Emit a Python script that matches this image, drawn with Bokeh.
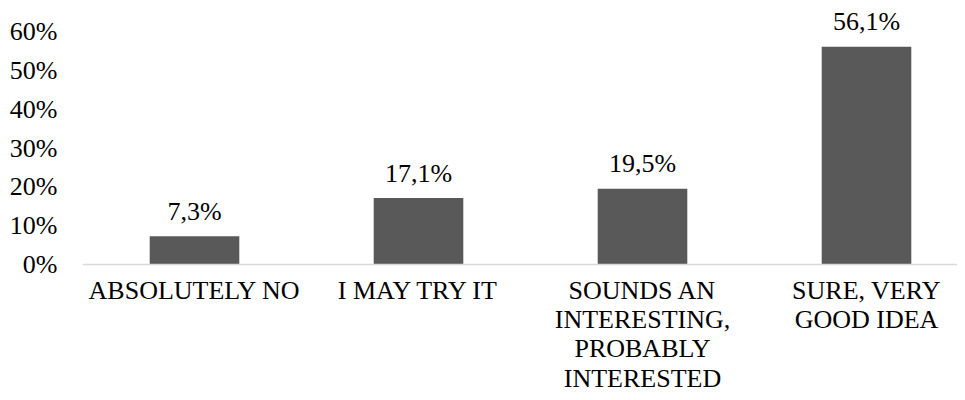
from bokeh.plotting import figure
from bokeh.models import Range1d, FixedTicker, NumeralTickFormatter, Span, ColumnDataSource
from bokeh.core.properties import value
from bokeh.embed import file_html
from bokeh.resources import INLINE

categories = ["ABSOLUTELY NO", "I MAY TRY IT",
              "SOUNDS AN\nINTERESTING,\nPROBABLY\nINTERESTED",
              "SURE, VERY\nGOOD IDEA"]
shares = [0.073, 0.171, 0.195, 0.561]
share_labels = ["7,3%", "17,1%", "19,5%", "56,1%"]
y_ticks = [0, 0.1, 0.2, 0.3, 0.4, 0.5, 0.6]

FONT = "Liberation Serif"
positions = list(range(len(categories)))
src = ColumnDataSource(dict(x=positions, top=shares, lab=share_labels,
                            cat=categories, zero=[0] * len(categories)))

W, H = 957, 392
LEFT = 82     # canvas x of the frame's left edge
BASE = 264    # canvas y of the 0% baseline
PXU = 388.3   # pixels per unit (100%)
PXC = 224.0   # pixels per category

p = figure(width=W, height=H, output_backend="svg", toolbar_location=None,
           x_axis_location=None,
           x_range=Range1d(-0.5, -0.5 + (W - LEFT) / PXC),
           y_range=Range1d(-(H - BASE) / PXU, BASE / PXU),
           min_border_left=LEFT, min_border_right=0, min_border_top=0,
           min_border_bottom=0)
p.outline_line_color = None
p.grid.visible = False

p.vbar(x="x", top="top", bottom=0, width=0.4, source=src,
       fill_color="#595959", line_color=None)

p.add_layout(Span(location=0, dimension="width", line_color="#d9d9d9",
                  line_width=1.5))

p.text(x="x", y="top", text="lab", source=src, text_align="center",
       text_baseline="alphabetic", y_offset=-25, text_color="#000000",
       text_font=value(FONT), text_font_size="26px")

p.text(x="x", y="zero", text="cat", source=src, text_align="center",
       text_baseline="top", y_offset=11, text_color="#000000",
       text_font=value(FONT), text_font_size="26px", text_line_height=1.015)

ax = p.yaxis[0]
ax.ticker = FixedTicker(ticks=y_ticks)
ax.formatter = NumeralTickFormatter(format="0%")
ax.axis_line_color = None
ax.major_tick_line_color = None
ax.minor_tick_line_color = None
ax.major_tick_out = 0
ax.major_tick_in = 0
ax.minor_tick_out = 0
ax.minor_tick_in = 0
ax.major_label_standoff = 25
ax.major_label_text_font = FONT
ax.major_label_text_font_size = "26px"
ax.major_label_text_color = "#000000"

open("out.html", "w").write(file_html(p, INLINE))
